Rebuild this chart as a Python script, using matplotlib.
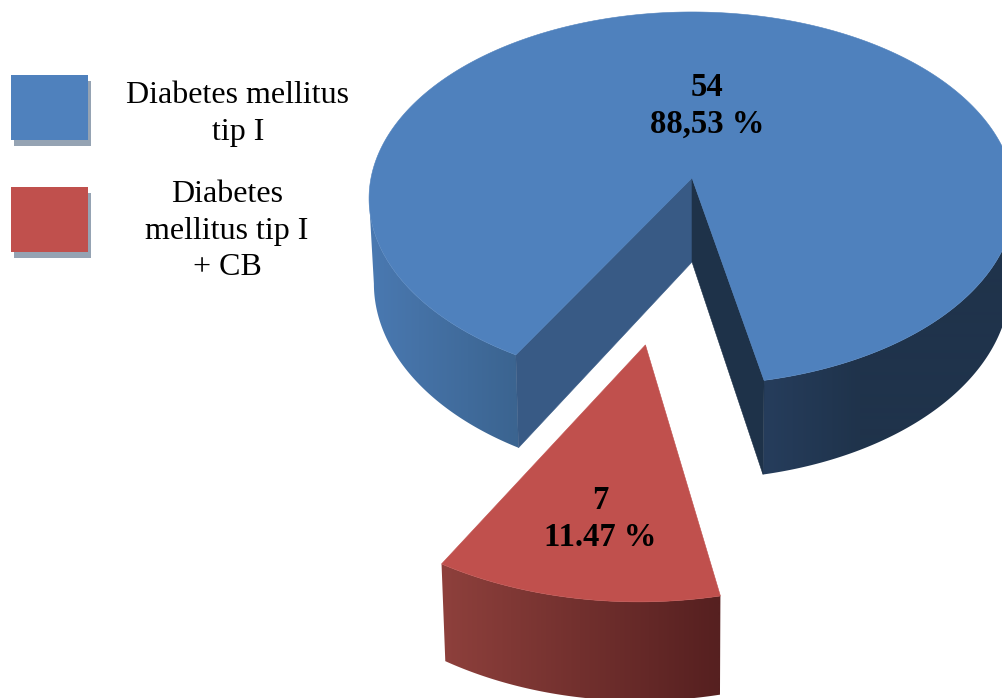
import numpy as np
import matplotlib
matplotlib.use("Agg")
import matplotlib.pyplot as plt
from matplotlib.patches import Polygon, Rectangle

plt.rcParams['font.family'] = ['Liberation Serif', 'DejaVu Serif']

# data
categories = ["Diabetes mellitus\ntip I", "Diabetes\nmellitus tip I\n+ CB"]
counts = [54, 7]
percent_labels = ["88,53 %", "11.47 %"]

top_colors = ["#4f81bd", "#c0504d"]
shadow_color = "#95a3b3"

# projection of the pie plane, in pixels
cx, cy = 692, 178
rx, ry = 321, 184.3
persp = 0.11
depth_main = 84
depth_small = 79
bottom_shrink = 0.985  # lower rim comes in a little towards the middle
mid_angle = 99.1  # middle of the red slice, measured from +x towards the viewer
explode = 0.834
small_radius = 1.012
rim_turn = np.degrees(np.arcsin(persp))  # where the rim turns away from the viewer


def project(u, v, depth=None):
    s = 1.0 / (1.0 - persp * v)
    if depth is not None:
        return cx + rx * u * s * bottom_shrink, cy + (ry * v + depth) * s
    return cx + rx * u * s, cy + ry * v * s


def wall(ax, a1, a2, off, r, depth, stops, z):
    # outer rim: horizontal gradient clipped to the rim outline
    th = np.radians(np.linspace(a1, a2, 400))
    u = off[0] + r * np.cos(th)
    v = off[1] + r * np.sin(th)
    x0, y0 = project(u, v)
    x1, y1 = project(u, v, depth)
    outline = np.column_stack([np.r_[x0, x1[::-1]], np.r_[y0, y1[::-1]]])
    clip = Polygon(outline, transform=ax.transData, fc="none", ec="none")
    ax.add_patch(clip)
    xs = [s[0] for s in stops]
    rgb = np.array([matplotlib.colors.to_rgb(s[1]) for s in stops])
    grid = np.arange(0, 1100)
    grad = np.stack([np.interp(grid, xs, rgb[:, k]) for k in range(3)], axis=1)[None, :, :]
    ax.imshow(grad, extent=[0, 1100, 698, 0], aspect="auto", clip_path=clip, zorder=z,
              interpolation="bilinear")


def cut_face(ax, ang, color, z):
    t = np.radians(ang)
    ub, vb = np.cos(t), np.sin(t)
    pts = [project(0, 0), project(ub, vb), project(ub, vb, depth_main), project(0, 0, depth_main)]
    ax.add_patch(Polygon(pts, fc=color, ec=color, lw=0.4, zorder=z))


def top_face(ax, a1, a2, off, r, color, z):
    th = np.radians(np.linspace(a1, a2, 400))
    x, y = project(off[0] + r * np.cos(th), off[1] + r * np.sin(th))
    xa, ya = project(off[0], off[1])
    pts = np.column_stack([np.r_[xa, x], np.r_[ya, y]])
    ax.add_patch(Polygon(pts, fc=color, ec=color, lw=0.4, zorder=z))


fig = plt.figure(figsize=(10.03, 6.98), dpi=100)
ax = fig.add_axes([0, 0, 1, 1])

sweep = 360.0 * counts[1] / sum(counts)
red_a1 = mid_angle - sweep / 2
red_a2 = mid_angle + sweep / 2

# big slice, only the two rim parts that face the viewer
wall(ax, red_a2, 180 - rim_turn, (0, 0), 1, depth_main,
     [(370, "#4a79b1"), (517, "#3b6490")], 2)
wall(ax, 360 + rim_turn, red_a1 + 360, (0, 0), 1, depth_main,
     [(764, "#263d5c"), (860, "#1f334b"), (1100, "#1f334b")], 2)
cut_face(ax, red_a2, "#385a85", 3)
cut_face(ax, red_a1, "#1e3249", 3)
top_face(ax, red_a2, red_a1 + 360, (0, 0), 1, top_colors[0], 4)

# small slice, pulled out along its middle
t = np.radians(mid_angle)
off = (explode * np.cos(t), explode * np.sin(t))
wall(ax, red_a1, red_a2, off, small_radius, depth_small, [(442, "#8e403c"), (718, "#562020")], 3)
top_face(ax, red_a1, red_a2, off, small_radius, top_colors[1], 4)

# legend
for y0, col, lab, tx, ty in zip([75, 187], top_colors, categories, [238, 227], [114, 231]):
    ax.add_patch(Rectangle((14, y0 + 6), 77, 65, fc=shadow_color, ec="none", zorder=1))
    ax.add_patch(Rectangle((11, y0), 77, 65, fc=col, ec="none", zorder=2))
    ax.text(tx, ty, lab, ha="center", va="center", fontsize=23, linespacing=1.35, color="black")

# slice labels
ax.text(707, 106, "%d\n%s" % (counts[0], percent_labels[0]), ha="center", va="center",
        fontsize=23.5, fontweight="bold", linespacing=1.21, zorder=6)
ax.text(600, 519, "%d\n%s" % (counts[1], percent_labels[1]), ha="center", va="center",
        fontsize=23.5, fontweight="bold", linespacing=1.21, zorder=6)

ax.set_xlim(0, 1003)
ax.set_ylim(698, 0)
ax.axis("off")

fig.savefig("out.png", dpi=100)
